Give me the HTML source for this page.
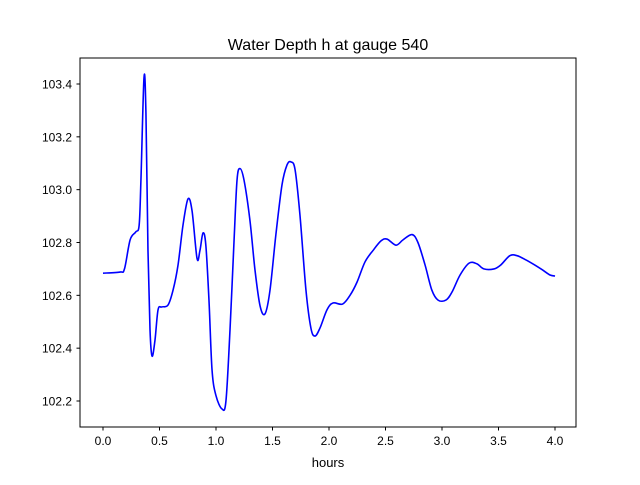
<!DOCTYPE html>
<html><head><meta charset="utf-8"><style>
body{margin:0;background:#fff}
svg{font-family:"Liberation Sans","DejaVu Sans",sans-serif}
</style></head><body>
<svg id="chart" width="640" height="480">
<rect width="640" height="480" fill="#fff"/>
<text x="328" y="50" text-anchor="middle" font-size="16">Water Depth h at gauge 540</text>
<g id="ticks"></g>
<path id="line" fill="none" stroke="#0000ff" stroke-width="1.6"/>
<rect x="80" y="58" width="496" height="369" fill="none" stroke="#000" stroke-width="1"/>
<text x="328" y="467" text-anchor="middle" font-size="13">hours</text>
</svg>
<script>
const hours=[0,0.15,0.19,0.24,0.29,0.32,0.336,0.363,0.38,0.398,0.416,0.434,0.46,0.487,0.52,0.575,0.62,0.664,0.708,0.752,0.788,0.832,0.858,0.885,0.91,0.938,0.965,1.0,1.053,1.088,1.124,1.16,1.186,1.212,1.248,1.3,1.345,1.39,1.434,1.478,1.53,1.584,1.628,1.664,1.7,1.743,1.796,1.84,1.876,1.92,1.982,2.035,2.12,2.186,2.248,2.318,2.39,2.46,2.513,2.593,2.655,2.735,2.787,2.85,2.91,2.965,3.035,3.088,3.16,3.24,3.31,3.37,3.46,3.52,3.6,3.664,3.743,3.82,3.89,3.956,4.0];
const depth=[102.684,102.688,102.70,102.81,102.84,102.866,103.04,103.425,103.29,102.77,102.47,102.37,102.43,102.545,102.556,102.563,102.62,102.715,102.866,102.965,102.92,102.74,102.77,102.836,102.79,102.58,102.317,102.22,102.17,102.2,102.47,102.81,103.036,103.08,103.036,102.885,102.696,102.56,102.53,102.62,102.83,103.018,103.093,103.105,103.075,102.904,102.62,102.476,102.446,102.476,102.545,102.571,102.567,102.6,102.65,102.726,102.77,102.806,102.813,102.79,102.81,102.83,102.8,102.715,102.62,102.582,102.582,102.612,102.677,102.722,102.719,102.7,102.7,102.715,102.75,102.75,102.734,102.715,102.696,102.677,102.673];
const xTicks=[0,0.5,1,1.5,2,2.5,3,3.5,4];
const yTicks=[102.2,102.4,102.6,102.8,103.0,103.2,103.4];
const X=v=>103+v*113;
const Y=v=>84+(103.4-v)*264.17;
const ns="http://www.w3.org/2000/svg";
const g=document.getElementById('ticks');
function mk(t,a){const e=document.createElementNS(ns,t);for(const k in a)e.setAttribute(k,a[k]);g.appendChild(e);return e;}
xTicks.forEach(v=>{
 const l=mk('line',{x1:X(v),x2:X(v),y1:427,y2:430.5,stroke:'#000'});
 
 
 const t=mk('text',{x:X(v),y:445,'text-anchor':'middle','font-size':12});
 t.textContent=v.toFixed(1);
 
 
});
yTicks.forEach(v=>{
 const l=mk('line',{x1:76.5,x2:80,y1:Y(v),y2:Y(v),stroke:'#000'});
 
 
 const t=mk('text',{x:72,y:Y(v)+4.5,'text-anchor':'end','font-size':12});
 t.textContent=v.toFixed(1);
 
 
});
const p=hours.map((h,i)=>[X(h),Y(depth[i])]);
let d='M'+p[0][0]+','+p[0][1];
for(let i=0;i<p.length-1;i++){
 const p0=p[Math.max(0,i-1)],p1=p[i],p2=p[i+1],p3=p[Math.min(p.length-1,i+2)];
 const c1=[p1[0]+(p2[0]-p0[0])/6,p1[1]+(p2[1]-p0[1])/6];
 const c2=[p2[0]-(p3[0]-p1[0])/6,p2[1]-(p3[1]-p1[1])/6];
 d+=`C${c1[0]},${c1[1]} ${c2[0]},${c2[1]} ${p2[0]},${p2[1]}`;
}
document.getElementById('line').setAttribute('d',d);
</script>
</body></html>
